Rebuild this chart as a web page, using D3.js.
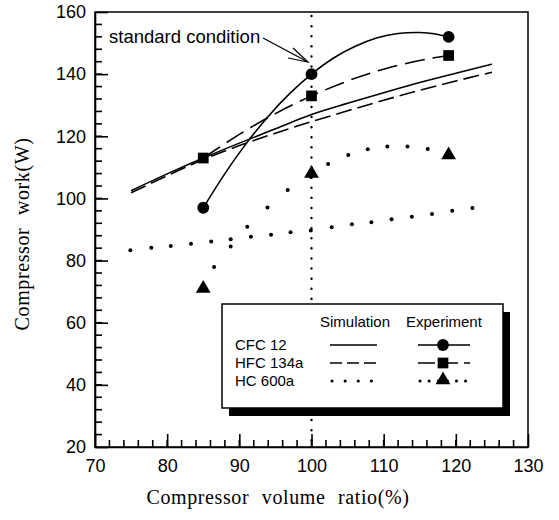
<!DOCTYPE html>
<html lang="en">
<head>
    <meta charset="UTF-8">
    <title>Compressor work</title>
    <style>
      body { margin: 0; background: #fff; }
      .axis text { font-family: "Liberation Sans", Arial, sans-serif; font-size: 18px; fill: #000; }
      .axis line, .axis path { stroke: #000; stroke-width: 1.6px; }
      .minor { stroke: #000; stroke-width: 1.6px; }
      .title { font-family: "Liberation Serif", "Times New Roman", serif; font-size: 20px; fill: #000; letter-spacing: 0.6px; word-spacing: 7px; }
      .legend text { font-family: "Liberation Sans", Arial, sans-serif; font-size: 15px; fill: #000; }
    </style>
</head>
<body>
<svg height="520" width="559"></svg>

<script src="https://cdn.jsdelivr.net/npm/d3@7/dist/d3.min.js"></script>
<script>

  // tick labels
  var volumeTicks = [70, 80, 90, 100, 110, 120, 130];
  var workTicks = [20, 40, 60, 80, 100, 120, 140, 160];

  // experiment points (volume ratio %, work W)
  var expVolume = [85, 100, 119];
  var cfcExp = [97, 140, 152];
  var hfcExp = [113, 133, 146];
  var hcExp = [71, 108, 114];

  // curves drawn through the experiment points
  var cfcFitVolume = [85, 88, 91, 94, 97, 100, 103, 106, 109, 112, 115, 117, 119];
  var cfcFit = [97, 108, 117.8, 126.4, 133.8, 140, 145.1, 148.9, 151.6, 153.1, 153.4, 153, 152];
  var hfcFitVolume = [85, 90, 95, 100, 105, 110, 115, 119];
  var hfcFit = [113, 120.6, 127.3, 133, 137.8, 141.6, 144.4, 146];
  var hcFitVolume = [86.5, 88.8, 91.1, 93.9, 96.7, 99.9, 102.3, 105.1, 107.8, 110.5, 113.3, 116.1];
  var hcFit = [77.9, 84.5, 90.9, 97.1, 102.7, 107, 111.1, 114, 115.8, 116.7, 116.7, 115.9];

  // simulation
  var simVolume = [75, 80, 85, 90, 95, 100, 105, 110, 115, 120, 125];
  var cfcSim = [102.5, 107.9, 113, 117.8, 122.4, 127, 130.6, 134, 137.3, 140.3, 143.2];
  var hfcSim = [101.8, 107.3, 112.5, 117, 121, 124.7, 128.2, 131.6, 134.8, 137.8, 140.6];
  var hcSimVolume = [74.9, 77.8, 80.5, 83.3, 86.1, 88.8, 91.6, 94.4, 97.1, 99.9, 102.8, 105.6, 108.3, 111.1, 113.9, 116.7, 119.5, 122.3];
  var hcSim = [83.3, 84.1, 84.7, 85.4, 86.1, 86.9, 87.7, 88.3, 89.1, 89.7, 90.7, 91.7, 92.3, 93.3, 94.1, 95, 96, 96.9];

  var standardVolume = 100;

  var translate = function(x, y) {
    return "translate(" + x + "," + y + ")";
  }

  var graphMargins = {top: 12, right: 31, bottom: 73, left: 95};

  var svg = d3.select("svg")
    .append("g")
    .attr("transform", translate(graphMargins.left, graphMargins.top));

  var graphWidth = d3.select("svg").attr("width") - graphMargins.left - graphMargins.right;
  var graphHeight = d3.select("svg").attr("height") - graphMargins.top - graphMargins.bottom;

  var volumeToWidth = d3.scaleLinear().domain([70, 130]).range([0, graphWidth]);
  var workToHeight = d3.scaleLinear().domain([20, 160]).range([graphHeight, 0]);

  var pairs = function(xs, ys) {
    return xs.map(function(v, i) { return [v, ys[i]]; });
  }

  var line = d3.line()
    .x(function(d) { return volumeToWidth(d[0]) })
    .y(function(d) { return workToHeight(d[1]) })
    .curve(d3.curveMonotoneX);

  // minor ticks, pointing into the plot
  var minorLength = 7;
  svg.selectAll('.xminor')
     .data(d3.range(72, 130, 2))
     .enter()
     .append('line')
     .attr('class', 'minor')
     .attr('x1', function(d) { return volumeToWidth(d) })
     .attr('x2', function(d) { return volumeToWidth(d) })
     .attr('y1', graphHeight)
     .attr('y2', graphHeight - minorLength);

  svg.selectAll('.yminor')
     .data(d3.range(24, 160, 4))
     .enter()
     .append('line')
     .attr('class', 'minor')
     .attr('x1', 0)
     .attr('x2', minorLength)
     .attr('y1', function(d) { return workToHeight(d) })
     .attr('y2', function(d) { return workToHeight(d) });

  svg.append('g')
     .attr('class', 'x axis')
     .attr('transform', translate(0, graphHeight))
     .call(d3.axisBottom(volumeToWidth).tickValues(volumeTicks).tickSizeInner(-13).tickSizeOuter(0).tickPadding(12));

  svg.append('g')
     .attr('class', 'y axis')
     .call(d3.axisLeft(workToHeight).tickValues(workTicks).tickSizeInner(-13).tickSizeOuter(0).tickPadding(9));

  // frame
  svg.append('rect')
     .attr('width', graphWidth)
     .attr('height', graphHeight)
     .attr('fill', 'none')
     .attr('stroke', '#000')
     .attr('stroke-width', 1.5);

  // standard condition
  svg.append('line')
     .attr('x1', volumeToWidth(standardVolume))
     .attr('x2', volumeToWidth(standardVolume))
     .attr('y1', 4)
     .attr('y2', graphHeight)
     .attr('stroke', '#000')
     .attr('stroke-width', 2.4)
     .attr('stroke-linecap', 'round')
     .style('stroke-dasharray', '0.1, 10');

  // simulation lines
  svg.append('path')
     .datum(pairs(simVolume, cfcSim))
     .attr('d', line)
     .attr('fill', 'none').attr('stroke', '#000').attr('stroke-width', 1.6);

  svg.append('path')
     .datum(pairs(simVolume, hfcSim))
     .attr('d', line)
     .attr('fill', 'none').attr('stroke', '#000').attr('stroke-width', 1.6)
     .style('stroke-dasharray', '16, 6');

  svg.selectAll('.simdot')
     .data(pairs(hcSimVolume, hcSim))
     .enter()
     .append('circle')
     .attr('cx', function(d) { return volumeToWidth(d[0]) })
     .attr('cy', function(d) { return workToHeight(d[1]) })
     .attr('r', 2);

  // experiment curves
  svg.append('path')
     .datum(pairs(cfcFitVolume, cfcFit))
     .attr('d', line.curve(d3.curveNatural))
     .attr('fill', 'none').attr('stroke', '#000').attr('stroke-width', 1.6);

  svg.append('path')
     .datum(pairs(hfcFitVolume, hfcFit))
     .attr('d', line.curve(d3.curveNatural))
     .attr('fill', 'none').attr('stroke', '#000').attr('stroke-width', 1.6)
     .style('stroke-dasharray', '20, 8');

  svg.selectAll('.expdot')
     .data(pairs(hcFitVolume, hcFit))
     .enter()
     .append('circle')
     .attr('cx', function(d) { return volumeToWidth(d[0]) })
     .attr('cy', function(d) { return workToHeight(d[1]) })
     .attr('r', 2);

  var circleSym = d3.symbol().type(d3.symbolCircle).size(110);
  var squareSym = d3.symbol().type(d3.symbolSquare).size(115);
  var triangleSym = d3.symbol().type(d3.symbolTriangle).size(95);

  var addMarkers = function(values, sym) {
    svg.selectAll(null)
       .data(pairs(expVolume, values))
       .enter()
       .append('path')
       .attr('d', sym)
       .attr('transform', function(d) { return translate(volumeToWidth(d[0]), workToHeight(d[1])) });
  }
  addMarkers(cfcExp, circleSym);
  addMarkers(hfcExp, squareSym);
  addMarkers(hcExp, triangleSym);

  // annotation
  svg.append('text')
     .attr('x', 14)
     .attr('y', 31)
     .style('font-family', '"Liberation Sans", Arial, sans-serif')
     .style('font-size', '18.5px')
     .text('standard condition');

  svg.append('line')
     .attr('x1', 168).attr('y1', 26)
     .attr('x2', 213).attr('y2', 50)
     .attr('stroke', '#000').attr('stroke-width', 1.2);

  svg.append('path')
     .attr('d', 'M198,36 L213,50 L193,46')
     .attr('fill', 'none').attr('stroke', '#000').attr('stroke-width', 1.2);

  // legend
  var legend = svg.append('g').attr('class', 'legend').attr('transform', translate(127, 292));
  var legendWidth = 281, legendHeight = 104;

  legend.append('rect')
     .attr('x', 7).attr('y', 8)
     .attr('width', legendWidth).attr('height', legendHeight)
     .attr('fill', '#000');

  legend.append('rect')
     .attr('width', legendWidth).attr('height', legendHeight)
     .attr('fill', '#fff').attr('stroke', '#000').attr('stroke-width', 1.5);

  legend.append('text').attr('x', 98).attr('y', 23).text('Simulation');
  legend.append('text').attr('x', 184).attr('y', 23).text('Experiment');

  var refrigerants = ['CFC 12', 'HFC 134a', 'HC 600a'];
  var rowY = [41, 59, 77];

  refrigerants.forEach(function(name, i) {
    legend.append('text').attr('x', 13).attr('y', rowY[i] + 5).text(name);
  });

  legend.append('line').attr('x1', 108).attr('x2', 155).attr('y1', rowY[0]).attr('y2', rowY[0])
     .attr('stroke', '#000').attr('stroke-width', 1.6);
  legend.append('line').attr('x1', 108).attr('x2', 155).attr('y1', rowY[1]).attr('y2', rowY[1])
     .attr('stroke', '#000').attr('stroke-width', 1.6).style('stroke-dasharray', '12, 5');
  legend.append('line').attr('x1', 110).attr('x2', 155).attr('y1', rowY[2]).attr('y2', rowY[2])
     .attr('stroke', '#000').attr('stroke-width', 3).attr('stroke-linecap', 'round').style('stroke-dasharray', '0.1, 13');

  legend.append('line').attr('x1', 196).attr('x2', 248).attr('y1', rowY[0]).attr('y2', rowY[0])
     .attr('stroke', '#000').attr('stroke-width', 1.6);
  legend.append('line').attr('x1', 196).attr('x2', 248).attr('y1', rowY[1]).attr('y2', rowY[1])
     .attr('stroke', '#000').attr('stroke-width', 1.6).style('stroke-dasharray', '17, 6');
  legend.append('line').attr('x1', 198).attr('x2', 250).attr('y1', rowY[2]).attr('y2', rowY[2])
     .attr('stroke', '#000').attr('stroke-width', 3).attr('stroke-linecap', 'round').style('stroke-dasharray', '0.1, 9');

  legend.append('path').attr('d', circleSym).attr('transform', translate(221, rowY[0]));
  legend.append('path').attr('d', squareSym).attr('transform', translate(221, rowY[1]));
  legend.append('path').attr('d', triangleSym).attr('transform', translate(221, rowY[2] - 1));

  // axis titles
  d3.select('svg').append('text')
     .attr('class', 'title')
     .attr('text-anchor', 'middle')
     .attr('x', 278)
     .attr('y', 504)
     .text('Compressor volume ratio(%)');

  d3.select('svg').append('text')
     .attr('class', 'title')
     .attr('text-anchor', 'middle')
     .attr('transform', 'translate(29,234) rotate(-90)')
     .text('Compressor work(W)');

</script>
</body>
</html>
